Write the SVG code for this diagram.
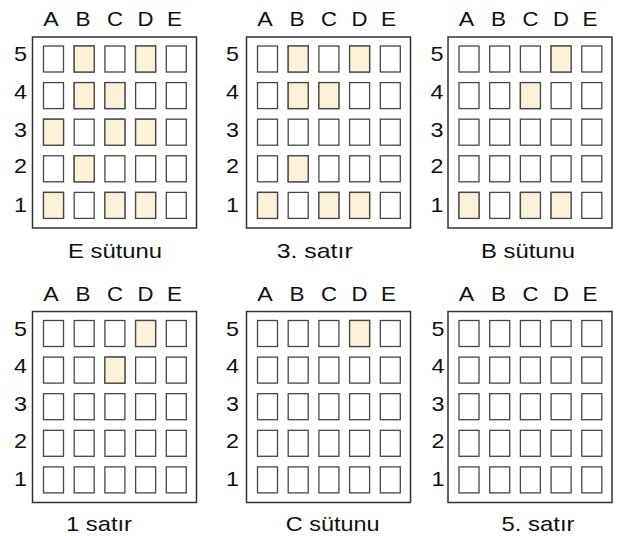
<svg xmlns="http://www.w3.org/2000/svg" xmlns:xlink="http://www.w3.org/1999/xlink" width="620" height="536" viewBox="0 0 620 536">
<style>
  .frame { fill: #ffffff; stroke: #333333; stroke-width: 1.5; }
  .cell { fill: #ffffff; stroke: #474747; stroke-width: 1.3; }
  .on { fill: #fdf2d7; stroke: #474747; stroke-width: 1.3; }
  text { font-family: "Liberation Sans", Arial, Helvetica, sans-serif; font-size: 21px; fill: #111111; text-anchor: middle; }
</style>
<defs>
  <g id="grid">
    <rect class="frame" x="0" y="0" width="164" height="191"/>
    <rect class="cell" x="11" y="9" width="20" height="26"/><rect class="cell" x="41.7" y="9" width="20" height="26"/><rect class="cell" x="72.4" y="9" width="20" height="26"/><rect class="cell" x="103.1" y="9" width="20" height="26"/><rect class="cell" x="133.8" y="9" width="20" height="26"/>
    <rect class="cell" x="11" y="45.6" width="20" height="26"/><rect class="cell" x="41.7" y="45.6" width="20" height="26"/><rect class="cell" x="72.4" y="45.6" width="20" height="26"/><rect class="cell" x="103.1" y="45.6" width="20" height="26"/><rect class="cell" x="133.8" y="45.6" width="20" height="26"/>
    <rect class="cell" x="11" y="82.2" width="20" height="26"/><rect class="cell" x="41.7" y="82.2" width="20" height="26"/><rect class="cell" x="72.4" y="82.2" width="20" height="26"/><rect class="cell" x="103.1" y="82.2" width="20" height="26"/><rect class="cell" x="133.8" y="82.2" width="20" height="26"/>
    <rect class="cell" x="11" y="118.8" width="20" height="26"/><rect class="cell" x="41.7" y="118.8" width="20" height="26"/><rect class="cell" x="72.4" y="118.8" width="20" height="26"/><rect class="cell" x="103.1" y="118.8" width="20" height="26"/><rect class="cell" x="133.8" y="118.8" width="20" height="26"/>
    <rect class="cell" x="11" y="155.4" width="20" height="26"/><rect class="cell" x="41.7" y="155.4" width="20" height="26"/><rect class="cell" x="72.4" y="155.4" width="20" height="26"/><rect class="cell" x="103.1" y="155.4" width="20" height="26"/><rect class="cell" x="133.8" y="155.4" width="20" height="26"/>
    <text x="18.5" y="-11" textLength="15.5" lengthAdjust="spacingAndGlyphs">A</text><text x="50.5" y="-11" textLength="15" lengthAdjust="spacingAndGlyphs">B</text><text x="82.5" y="-11" textLength="16" lengthAdjust="spacingAndGlyphs">C</text><text x="113" y="-11" textLength="16" lengthAdjust="spacingAndGlyphs">D</text><text x="142" y="-11" textLength="15" lengthAdjust="spacingAndGlyphs">E</text>
  </g>
  <g id="rows">
    <text x="0" y="24" textLength="13" lengthAdjust="spacingAndGlyphs">5</text><text x="0" y="61.7" textLength="13" lengthAdjust="spacingAndGlyphs">4</text><text x="0" y="99.7" textLength="13" lengthAdjust="spacingAndGlyphs">3</text><text x="0" y="136.3" textLength="13" lengthAdjust="spacingAndGlyphs">2</text><text x="0" y="174.7" textLength="13" lengthAdjust="spacingAndGlyphs">1</text>
  </g>
</defs>

<g id="panel-e-sutunu" transform="translate(32.5,37)">
  <use xlink:href="#grid"/>
  <use xlink:href="#rows" x="-12"/>
  <rect class="on" x="41.7" y="9" width="20" height="26"/><rect class="on" x="103.1" y="9" width="20" height="26"/>
  <rect class="on" x="41.7" y="45.6" width="20" height="26"/><rect class="on" x="72.4" y="45.6" width="20" height="26"/>
  <rect class="on" x="11" y="82.2" width="20" height="26"/><rect class="on" x="72.4" y="82.2" width="20" height="26"/><rect class="on" x="103.1" y="82.2" width="20" height="26"/>
  <rect class="on" x="41.7" y="118.8" width="20" height="26"/>
  <rect class="on" x="11" y="155.4" width="20" height="26"/><rect class="on" x="72.4" y="155.4" width="20" height="26"/><rect class="on" x="103.1" y="155.4" width="20" height="26"/>
  <text x="82.5" y="221" textLength="94" lengthAdjust="spacingAndGlyphs">E sütunu</text>
</g>

<g id="panel-3-satir" transform="translate(246.5,37)">
  <use xlink:href="#grid"/>
  <use xlink:href="#rows" x="-14"/>
  <rect class="on" x="41.7" y="9" width="20" height="26"/><rect class="on" x="103.1" y="9" width="20" height="26"/>
  <rect class="on" x="41.7" y="45.6" width="20" height="26"/><rect class="on" x="72.4" y="45.6" width="20" height="26"/>
  <rect class="on" x="41.7" y="118.8" width="20" height="26"/>
  <rect class="on" x="11" y="155.4" width="20" height="26"/><rect class="on" x="72.4" y="155.4" width="20" height="26"/><rect class="on" x="103.1" y="155.4" width="20" height="26"/>
  <text x="68.2" y="221" textLength="76" lengthAdjust="spacingAndGlyphs">3. satır</text>
</g>

<g id="panel-b-sutunu" transform="translate(448,37)">
  <use xlink:href="#grid"/>
  <use xlink:href="#rows" x="-11"/>
  <rect class="on" x="103.1" y="9" width="20" height="26"/>
  <rect class="on" x="72.4" y="45.6" width="20" height="26"/>
  <rect class="on" x="11" y="155.4" width="20" height="26"/><rect class="on" x="72.4" y="155.4" width="20" height="26"/><rect class="on" x="103.1" y="155.4" width="20" height="26"/>
  <text x="80" y="221" textLength="94" lengthAdjust="spacingAndGlyphs">B sütunu</text>
</g>

<g id="panel-1-satir" transform="translate(32.5,311.5)">
  <use xlink:href="#grid"/>
  <use xlink:href="#rows" x="-12"/>
  <rect class="on" x="103.1" y="9" width="20" height="26"/>
  <rect class="on" x="72.4" y="45.6" width="20" height="26"/>
  <text x="66.5" y="219" textLength="66" lengthAdjust="spacingAndGlyphs">1 satır</text>
</g>

<g id="panel-c-sutunu" transform="translate(246.5,311.5)">
  <use xlink:href="#grid"/>
  <use xlink:href="#rows" x="-14"/>
  <rect class="on" x="103.1" y="9" width="20" height="26"/>
  <text x="86.2" y="219" textLength="94" lengthAdjust="spacingAndGlyphs">C sütunu</text>
</g>

<g id="panel-5-satir" transform="translate(448,311.5)">
  <use xlink:href="#grid"/>
  <use xlink:href="#rows" x="-10"/>
  <text x="90" y="219" textLength="73" lengthAdjust="spacingAndGlyphs">5. satır</text>
</g>
</svg>
